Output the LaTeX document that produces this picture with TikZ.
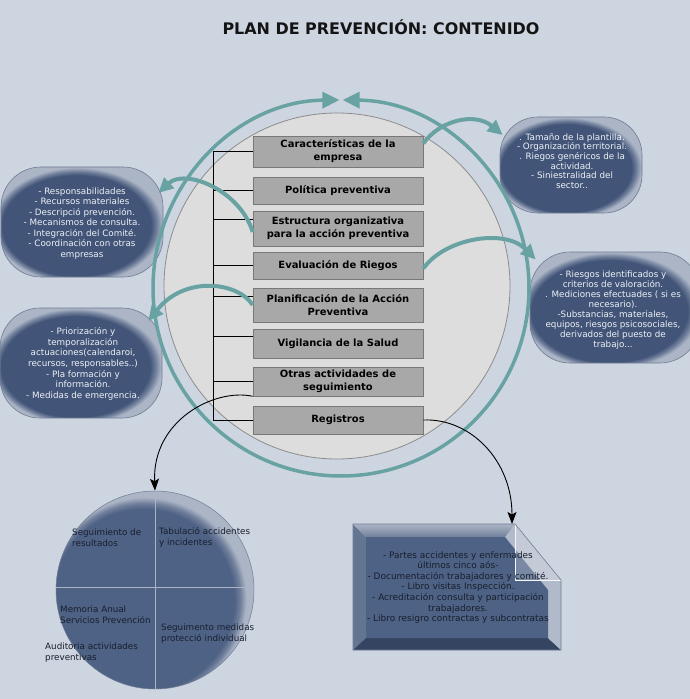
\documentclass[tikz,border=0pt]{standalone}
\usepackage{fontspec}
\setmainfont{DejaVu Sans}
\usetikzlibrary{arrows.meta}
\definecolor{bgc}{RGB}{205,213,224}
\definecolor{tealc}{RGB}{104,162,163}
\definecolor{boxfill}{RGB}{168,168,168}
\definecolor{boxedge}{RGB}{120,120,120}
\definecolor{icfill}{RGB}{221,221,221}
\definecolor{icedge}{RGB}{140,140,140}
\definecolor{bdk}{RGB}{66,85,120}
\definecolor{bmid}{RGB}{112,127,155}
\definecolor{blt}{RGB}{172,181,198}
\definecolor{bedge}{RGB}{112,124,148}
\definecolor{bface}{RGB}{78,98,133}
\definecolor{btxt}{RGB}{238,241,246}
\definecolor{dtxt}{RGB}{24,30,45}
\definecolor{crossc}{RGB}{172,180,194}
\pgfdeclareradialshading{bubsh}{\pgfpoint{-4bp}{-4bp}}{color(0bp)=(bdk); color(23bp)=(bdk); color(24.6bp)=(bmid); color(26.2bp)=(blt); color(40bp)=(blt)}
\pgfdeclareradialshading{circsh}{\pgfpoint{-7bp}{-6bp}}{color(0bp)=(bface); color(23bp)=(bface); color(24.3bp)=(bmid); color(25.6bp)=(blt); color(40bp)=(blt)}
\tikzset{
  boxst/.style={draw=boxedge, fill=boxfill, line width=0.6bp, minimum width=170bp, inner sep=0pt, align=center, font=\fontsize{10}{13}\selectfont\bfseries},
  bubble/.style={shape=rectangle, rounded corners=40bp, draw=bedge, line width=0.6bp, shade, shading=bubsh, inner sep=0pt},
  btext/.style={text=btxt, align=center, inner sep=0pt},
  ctext/.style={text=dtxt, align=left, anchor=west, inner sep=0pt, font=\fontsize{8.8}{11}\selectfont},
  brk/.style={line width=1bp, black},
  ringst/.style={draw=tealc, line width=3.5bp, -{Triangle[length=17bp,width=16bp]}},
  tealarrow/.style={draw=tealc, line width=4bp, -{Triangle[length=15bp,width=14bp]}},
  blkarrow/.style={draw=black, line width=0.9bp, -{Stealth[length=12bp,width=9bp,inset=2.5bp]}},
}
\begin{document}
\begin{tikzpicture}[x=1bp,y=-1bp]
\useasboundingbox (0,0) rectangle (690,699);
\fill[bgc] (0,0) rectangle (690,699);

\node[font=\fontsize{16}{19}\selectfont\bfseries, text=black!92] (title) at (381,27) {PLAN DE PREVENCIÓN: CONTENIDO};

% inner circle
\node[circle, minimum size=346bp, inner sep=0pt, fill=icfill, draw=icedge, line width=0.8bp] (ic) at (337,286) {};

% boxes
\node[boxst, minimum height=31bp] (car) at (338,151.5) {Características de la\\empresa};
\node[boxst, minimum height=27bp] (pol) at (338,190.5) {Política preventiva};
\node[boxst, minimum height=35bp] (est) at (338,228.5) {Estructura organizativa\\para la acción preventiva};
\node[boxst, minimum height=27bp] (eva) at (338,265.5) {Evaluación de Riegos};
\node[boxst, minimum height=34bp] (pla) at (338,305) {Planificación de la Acción\\Preventiva};
\node[boxst, minimum height=29bp] (vig) at (338,343.5) {Vigilancia de la Salud};
\node[boxst, minimum height=29bp] (otr) at (338,381.5) {Otras actividades de\\seguimiento};
\node[boxst, minimum height=28bp] (reg) at (338,420) {Registros};

% bracket
\coordinate (brT) at (213,151.5);
\draw[brk] (car.west) -- (car.west -| brT) -- (reg.west -| brT) -- (reg.west);
\draw[brk] (pol.west) -- (pol.west -| brT);
\draw[brk] ([yshift=9.5bp]est.west) -- ([yshift=9.5bp]est.west -| brT);
\draw[brk] (eva.west) -- (eva.west -| brT);
\draw[brk] ([yshift=9bp]pla.west) -- ([yshift=9bp]pla.west -| brT);
\draw[brk] ([yshift=7bp]vig.west) -- ([yshift=7bp]vig.west -| brT);
\draw[brk] (otr.west) -- (otr.west -| brT);

% bubbles
\node[bubble, minimum width=162bp, minimum height=110bp] (resp) at (82,222) {};
\node[btext, font=\fontsize{8.8}{10.5}\selectfont] (respT) at (82,223.5) {- Responsabilidades\\- Recursos materiales\\- Descripció prevención.\\- Mecanismos de consulta.\\- Integración del Comité.\\- Coordinación con otras\\empresas};
\node[bubble, minimum width=162bp, minimum height=110bp] (prio) at (81,363) {};
\node[btext, font=\fontsize{8.8}{10.7}\selectfont] (prioT) at (83,364) {- Priorización y\\temporalización\\actuaciones(calendaroi,\\recursos, responsables..)\\- Pla formación y\\información.\\- Medidas de emergencia.};
\node[bubble, rounded corners=38bp, minimum width=142bp, minimum height=96bp] (tam) at (571,165) {};
\node[btext, font=\fontsize{8.8}{9.7}\selectfont] (tamT) at (572,161) {. Tamaño de la plantilla.\\- Organización territorial.\\. Riegos genéricos de la\\actividad.\\- Siniestralidad del\\sector..};
\node[bubble, minimum width=170bp, minimum height=111bp] (ries) at (615,307.5) {};
\node[btext, font=\fontsize{8.8}{10}\selectfont] (riesT) at (613,310) {- Riesgos identificados y\\criterios de valoración.\\. Mediciones efectuades ( si es\\necesario).\\-Substancias, materiales,\\equipos, riesgos psicosociales,\\derivados del puesto de\\trabajo...};

% teal ring
\draw[ringst] (341,288) ++(90:188) arc[start angle=90, end angle=269.5, radius=188];
\draw[ringst] (341,288) ++(90:188) arc[start angle=90, end angle=-89.5, radius=188];

% teal curved arrows
\draw[tealarrow] ([yshift=8bp]car.east) .. controls (440,120) and (475,112) .. ([xshift=3bp,yshift=30bp]tam.west);
\draw[tealarrow] ([yshift=-3bp]eva.east) .. controls (445,238) and (505,228) .. ([xshift=6bp,yshift=48bp]ries.west);
\draw[tealarrow] ([yshift=-3.5bp]est.west) .. controls (240,190) and (185,168) .. ([xshift=-5bp,yshift=29bp]resp.east);
\draw[tealarrow] (pla.west) .. controls (238,282) and (185,275) .. ([xshift=-14bp,yshift=42bp]prio.east);

% bottom circle
\node[circle, minimum size=198bp, inner sep=0pt, shade, shading=circsh, draw=bedge, line width=0.5bp] (bc) at (155,590) {};
\draw[crossc, line width=0.8bp] (bc.north) -- (bc.south);
\draw[crossc, line width=0.8bp] ([yshift=3bp]bc.west) -- ([yshift=3bp]bc.east);
\node[ctext] (c1) at (72,537.5) {Seguimiento de\\resultados};
\node[ctext] (c2) at (159,537.5) {Tabulació accidentes\\y incidentes};
\node[ctext] (c3) at (60,614.5) {Memoria Anual\\Servicios Prevención};
\node[ctext] (c4) at (161,633.5) {Seguimento medidas\\protecció individual};
\node[ctext] (c5) at (45,652.5) {Auditoria actividades\\preventivas};

% bottom box (bevelled)
\fill[bmid!75!bdk] (353,524) -- (366,537) -- (366,638) -- (353,650) -- cycle;
\fill[bdk!80!black] (353,650) -- (366,638) -- (548,638) -- (561,650) -- cycle;
\fill[blt!85!bgc] (515,524) -- (561,580) -- (561,650) -- (548,638) -- (548,590) -- (505,537) -- cycle;
\shade[top color=blt, bottom color=bmid] (353,524) -- (515,524) -- (505,537) -- (366,537) -- cycle;
\fill[bface] (366,537) -- (505,537) -- (548,590) -- (548,638) -- (366,638) -- cycle;
\fill[white, opacity=0.25] (515,524) -- (561,580) -- (515,580) -- cycle;
\draw[white!80!bgc, line width=0.6bp] (515,524) -- (515,580) -- (561,580);
\draw[bedge, line width=0.6bp] (353,524) -- (515,524) -- (561,580) -- (561,650) -- (353,650) -- cycle;
\node[text=dtxt, align=center, inner sep=0pt, font=\fontsize{9}{10.6}\selectfont] (bb) at (458,587.5) {- Partes accidentes y enfermades\\últimos cinco aós-\\- Documentación trabajadores y comité.\\- Libro visitas Inspección.\\- Acreditación consulta y participación\\trabajadores.\\- Libro resigro contractas y subcontratas};
\coordinate (bbin) at (512,524);

% black curved arrows
\draw[blkarrow] (otr.south west) .. controls (215,388) and (152,420) .. (bc.north);
\draw[blkarrow] (reg.east) .. controls (470,418) and (512,460) .. (bbin);
\end{tikzpicture}
\end{document}
